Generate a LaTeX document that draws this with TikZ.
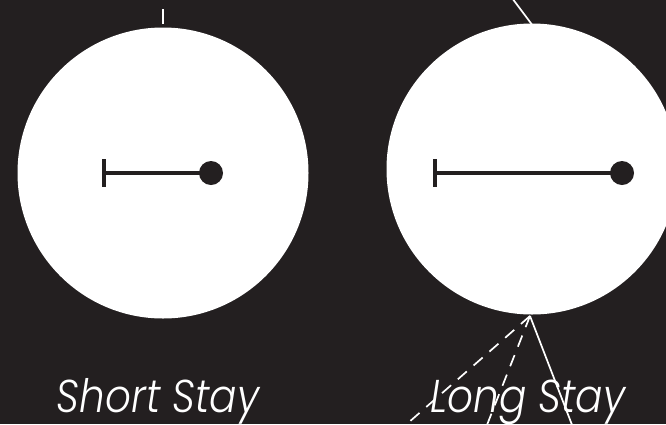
\documentclass[tikz,border=0pt]{standalone}
\usepackage{fontspec}
\usetikzlibrary{calc}
\newfontfamily\labelfont{Poppins Light Italic}
\definecolor{bg}{HTML}{231F20}
\tikzset{
  disc/.style={circle, fill=white, draw=none, minimum size=291pt, inner sep=0pt},
  bar/.style={draw=bg, line width=4.5pt},
  dot/.style={circle, fill=bg, minimum size=24pt, inner sep=0pt},
  wline/.style={draw=white, line width=1.7pt},
  wdash/.style={draw=white, line width=1.7pt, dash pattern=on 12pt off 9pt},
  label/.style={text=white, font=\labelfont\fontsize{46}{48}\selectfont, anchor=base, xscale=0.88}
}
\begin{document}
\begin{tikzpicture}[x=1pt,y=-1pt]
\fill[bg] (0,0) rectangle (666,424);
\useasboundingbox (0,0) rectangle (666,424);
\clip (0,0) rectangle (666,424);
% top connectors
\coordinate (t1a) at (163,9);
\coordinate (t1b) at (163,24);
\draw[wline] (t1a) -- (t1b);
\coordinate (t2a) at (512,-2);
\coordinate (t2b) at (533,26);
\draw[wline] (t2a) -- (t2b);
% circles
\node[disc] (c1) at (163,173) {};
\node[disc] (c2) at (532,169) {};
% bars
\coordinate (l1) at (104,173);
\coordinate (r1) at (211,173);
\draw[bar] (l1) -- (r1);
\draw[bar] ($(l1)+(0,-14)$) -- ($(l1)+(0,14)$);
\node[dot] (d1) at (r1) {};
\coordinate (l2) at (435,173);
\coordinate (r2) at (622,173);
\draw[bar] (l2) -- (r2);
\draw[bar] ($(l2)+(0,-14)$) -- ($(l2)+(0,14)$);
\node[dot] (d2) at (r2) {};
% bottom connectors
\coordinate (o) at (530,316);
\coordinate (e1) at (400,430);
\coordinate (e2) at (485,430);
\coordinate (e3) at (574,430);
\draw[wdash] (o) -- (e1);
\draw[wdash] (o) -- (e2);
\draw[wline] (o) -- (e3);
% labels
\node[label] (s) at (158,412) {Short Stay};
\node[label] (l) at (528,412) {Long Stay};
\end{tikzpicture}
\end{document}
